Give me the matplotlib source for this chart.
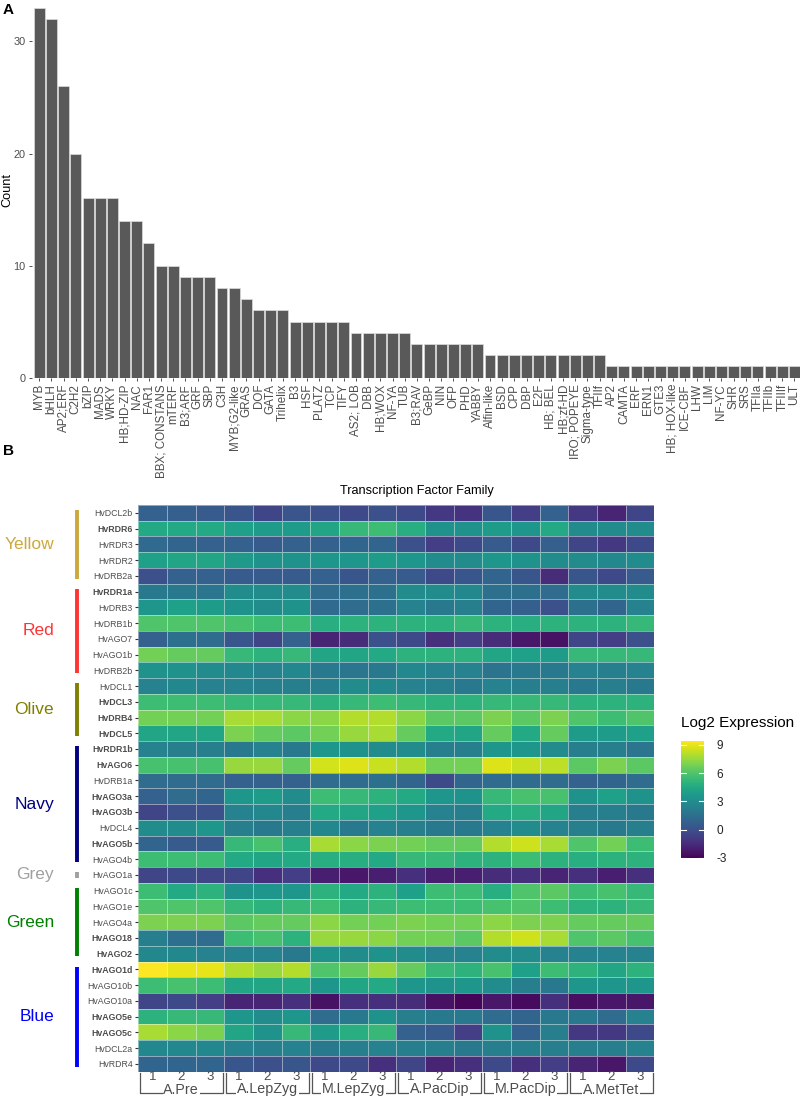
import numpy as np
import matplotlib
matplotlib.use("Agg")
import matplotlib.pyplot as plt
import matplotlib.transforms as mtransforms
from matplotlib.colors import Normalize

plt.rcParams['font.family'] = ['Liberation Sans', 'DejaVu Sans']
plt.rcParams['axes.unicode_minus'] = False

# ---------------- data: panel A ----------------
families = ["MYB", "bHLH", "AP2;ERF", "C2H2", "bZIP", "MADS", "WRKY", "HB;HD-ZIP", "NAC", "FAR1",
            "BBX; CONSTANS", "mTERF", "B3;ARF", "GRF", "SBP", "C3H", "MYB;G2-like", "GRAS", "DOF", "GATA",
            "Trihelix", "B3", "HSF", "PLATZ", "TCP", "TIFY", "AS2; LOB", "DBB", "HB;WOX", "NF-YA",
            "TUB", "B3;RAV", "GeBP", "NIN", "OFP", "PHD", "YABBY", "Alfin-like", "BSD", "CPP",
            "DBP", "E2F", "HB; BEL", "HB;zf-HD", "IRO; POPEYE", "Sigma-type", "TFIIf", "AP2", "CAMTA", "ERF",
            "ERN1", "GTE3", "HB; HOX-like", "ICE-CBF", "LHW", "LIM", "NF-YC", "SHR", "SRS", "TFIIa",
            "TFIIb", "TFIIIf", "ULT"]
counts = [33, 32, 26, 20, 16, 16, 16, 14, 14, 12,
          10, 10, 9, 9, 9, 8, 8, 7, 6, 6,
          6, 5, 5, 5, 5, 5, 4, 4, 4, 4,
          4, 3, 3, 3, 3, 3, 3, 2, 2, 2,
          2, 2, 2, 2, 2, 2, 2, 1, 1, 1,
          1, 1, 1, 1, 1, 1, 1, 1, 1, 1,
          1, 1, 1]
count_ticks = [0, 10, 20, 30]

# ---------------- data: panel B ----------------
genes = ["HvDCL2b", "HvRDR6", "HvRDR3", "HvRDR2", "HvDRB2a",
         "HvRDR1a", "HvDRB3", "HvDRB1b", "HvAGO7", "HvAGO1b", "HvDRB2b",
         "HvDCL1", "HvDCL3", "HvDRB4", "HvDCL5",
         "HvRDR1b", "HvAGO6", "HvDRB1a", "HvAGO3a", "HvAGO3b", "HvDCL4", "HvAGO5b", "HvAGO4b",
         "HvAGO1a",
         "HvAGO1c", "HvAGO1e", "HvAGO4a", "HvAGO18", "HvAGO2",
         "HvAGO1d", "HvAGO10b", "HvAGO10a", "HvAGO5e", "HvAGO5c", "HvDCL2a", "HvRDR4"]
bold_genes = ["HvRDR6", "HvRDR1a", "HvDCL3", "HvDRB4", "HvDCL5", "HvRDR1b", "HvAGO6",
              "HvAGO3a", "HvAGO3b", "HvAGO5b", "HvAGO18", "HvAGO2", "HvAGO1d", "HvAGO5e", "HvAGO5c"]
modules = ["Yellow", "Red", "Olive", "Navy", "Grey", "Green", "Blue"]
module_sizes = [5, 6, 4, 8, 1, 5, 7]
module_colors = ["#CCA93E", "#FF3333", "#808000", "#000080", "#A0A0A0", "#008000", "#0000FF"]
stages = ["A.Pre", "A.LepZyg", "M.LepZyg", "A.PacDip", "M.PacDip", "A.MetTet"]
replicates = ["1", "2", "3"]
cbar_ticks = [-3, 0, 3, 6, 9]

expr = [
    [0.8, 0.7, 0.5, 0.2, -0.5, 0.2, 0.0, -0.3, 0.0, -0.3, -1.0, -1.2, 0.3, -0.8, 0.8, -1.0, -1.8, -0.5],
    [4.5, 4.5, 4.5, 4.0, 3.8, 3.8, 4.3, 5.3, 5.5, 4.8, 3.3, 3.3, 3.8, 3.5, 4.5, 3.0, 3.0, 3.0],
    [1.2, 1.0, 0.8, 0.8, 0.5, 0.8, 0.8, 1.0, 1.0, 0.0, -0.8, -0.3, 0.5, -0.3, 0.7, -0.5, -1.0, -0.3],
    [4.0, 4.3, 4.3, 3.7, 3.3, 3.3, 3.5, 3.5, 3.8, 3.5, 3.0, 3.0, 3.5, 3.3, 3.0, 3.0, 2.8, 3.0],
    [0.0, 0.8, 0.8, 0.5, 0.5, 0.5, 0.8, 0.3, 0.8, 0.5, -0.3, 0.3, 1.0, 0.3, -1.5, 0.3, -0.3, 0.5],
    [2.0, 2.0, 1.8, 3.0, 3.0, 3.0, 1.3, 1.5, 1.5, 3.0, 3.0, 2.8, 1.5, 1.5, 1.3, 3.0, 3.0, 3.0],
    [3.5, 4.0, 3.8, 3.3, 3.0, 3.3, 1.2, 1.3, 1.5, 2.5, 2.0, 2.3, 1.0, 0.7, 0.0, 1.5, 1.0, 2.5],
    [6.0, 6.0, 6.0, 5.8, 5.5, 5.5, 4.8, 5.0, 5.0, 5.0, 5.0, 5.3, 5.0, 4.8, 5.0, 5.0, 5.0, 5.3],
    [0.8, 1.5, 1.3, 0.3, -0.5, 0.8, -1.8, -1.5, 0.0, -0.3, -1.3, -0.8, -1.5, -2.3, -2.5, -0.5, -0.8, 0.0],
    [6.8, 6.5, 6.5, 5.3, 5.0, 5.3, 4.3, 4.3, 4.5, 5.0, 5.0, 5.0, 4.3, 4.0, 3.8, 5.3, 5.3, 5.3],
    [3.3, 3.3, 3.0, 2.8, 2.5, 2.8, 2.0, 1.8, 2.0, 2.8, 2.5, 2.5, 1.7, 2.0, 2.0, 2.5, 2.3, 2.5],
    [2.5, 2.8, 2.5, 2.5, 2.3, 2.3, 2.3, 3.0, 2.8, 2.5, 2.3, 2.0, 2.5, 2.3, 2.3, 2.0, 2.3, 2.0],
    [5.5, 5.5, 5.5, 5.3, 5.3, 5.3, 5.0, 5.3, 5.5, 5.3, 5.0, 5.0, 5.3, 5.3, 5.3, 5.0, 5.0, 5.0],
    [6.8, 6.8, 6.8, 7.8, 7.8, 7.3, 7.3, 8.0, 8.0, 7.3, 6.3, 6.3, 7.0, 6.3, 7.0, 6.0, 5.5, 6.0],
    [4.3, 4.3, 4.3, 7.0, 6.5, 6.3, 6.8, 7.5, 7.8, 6.5, 4.5, 4.3, 6.5, 4.5, 6.5, 3.8, 3.8, 4.0],
    [2.5, 2.3, 2.3, 2.0, 2.5, 2.0, 3.5, 3.3, 3.0, 3.0, 2.3, 2.3, 3.5, 3.5, 3.0, 2.3, 2.3, 1.8],
    [5.8, 5.8, 5.8, 7.5, 7.5, 6.5, 8.6, 8.8, 8.4, 8.0, 6.8, 6.8, 8.8, 8.4, 8.2, 6.3, 7.0, 6.3],
    [1.3, 1.3, 1.3, 0.8, 0.8, 0.8, 1.3, 1.3, 1.5, 1.0, -0.3, 1.0, 1.3, 1.3, 1.3, 0.8, 1.0, 1.3],
    [0.8, 1.3, 1.0, 3.5, 3.8, 3.0, 5.5, 5.3, 5.0, 4.5, 3.5, 3.3, 5.3, 5.8, 5.8, 3.3, 4.0, 3.3],
    [-0.5, 0.0, 0.0, 2.5, 2.8, 2.3, 4.5, 4.3, 4.0, 3.5, 2.5, 2.3, 4.5, 4.8, 4.3, 2.3, 2.3, 2.0],
    [3.0, 3.0, 3.5, 2.3, 2.0, 2.3, 2.8, 2.0, 2.5, 2.3, 2.0, 2.0, 2.5, 3.0, 2.5, 2.3, 2.0, 2.3],
    [1.0, 0.5, 0.5, 5.3, 5.8, 4.8, 7.8, 7.3, 7.0, 6.8, 6.5, 6.5, 8.0, 8.5, 7.8, 6.0, 6.8, 5.5],
    [5.5, 5.5, 5.5, 4.5, 4.3, 4.5, 4.8, 4.8, 4.5, 5.3, 5.3, 5.0, 5.0, 5.5, 5.0, 4.8, 5.0, 5.0],
    [-0.5, -0.3, -0.5, -0.5, -1.3, -0.8, -2.0, -2.3, -2.0, -1.3, -2.0, -2.0, -1.5, -1.3, -1.8, -1.3, -2.0, -1.3],
    [5.5, 4.5, 5.0, 3.3, 3.5, 3.5, 5.0, 4.5, 5.0, 4.0, 5.5, 5.5, 4.8, 6.0, 6.3, 5.5, 5.8, 5.3],
    [6.0, 6.0, 6.0, 5.3, 5.0, 5.3, 5.5, 5.0, 5.3, 5.5, 5.5, 5.5, 5.8, 6.0, 5.5, 5.0, 5.0, 5.3],
    [7.0, 7.0, 7.0, 6.3, 6.5, 6.5, 7.3, 6.8, 6.8, 7.0, 6.8, 6.8, 7.3, 7.0, 7.0, 6.5, 6.5, 6.5],
    [2.3, 1.5, 1.3, 5.5, 5.8, 5.0, 7.5, 7.5, 7.3, 6.8, 6.8, 6.3, 8.0, 8.5, 7.8, 6.0, 6.3, 5.8],
    [2.8, 2.8, 2.5, 2.5, 2.5, 2.0, 3.3, 3.0, 3.3, 3.0, 2.5, 2.5, 3.0, 3.0, 2.5, 2.5, 2.5, 2.5],
    [9.4, 9.0, 9.0, 8.0, 7.5, 8.0, 6.0, 6.5, 7.5, 6.5, 5.3, 5.0, 5.8, 4.0, 5.5, 5.0, 4.3, 5.0],
    [5.5, 5.8, 5.5, 4.3, 4.3, 4.5, 3.5, 4.3, 4.5, 3.5, 3.3, 3.5, 3.0, 2.3, 2.0, 3.5, 3.5, 3.5],
    [-0.5, -0.3, -0.8, -1.8, -1.8, -1.3, -2.5, -1.3, -1.3, -1.5, -2.5, -2.9, -2.3, -2.7, -1.3, -2.6, -2.3, -2.3],
    [5.0, 5.3, 5.3, 3.5, 3.0, 3.5, 1.3, 2.0, 3.3, 2.3, 2.0, 2.0, 1.3, 1.0, 2.0, 2.0, 1.3, 2.5],
    [7.8, 7.3, 7.0, 4.3, 3.3, 5.3, 3.8, 4.8, 5.3, 0.8, 0.5, -0.8, 3.3, 0.8, 2.3, -1.0, -1.0, -0.3],
    [2.8, 2.8, 2.8, 2.5, 2.3, 2.5, 2.0, 2.3, 2.5, 2.3, 2.3, 2.0, 2.3, 2.3, 2.3, 2.3, 2.3, 2.5],
    [1.0, 1.0, 1.0, 0.3, 0.0, 0.3, -0.3, -0.3, -1.3, -0.5, -1.8, -1.3, -0.3, -1.3, -0.8, -1.8, -2.3, -0.3],
]

# ---------------- figure ----------------
W, H = 800, 1097
fig = plt.figure(figsize=(W / 100, H / 100), dpi=100)


def fx(px):
    return px / W


def fy(py):
    return 1 - py / H


TXT = '#4D4D4D'
TICK = '#333333'

# ---- panel A ----
axA = fig.add_axes([fx(32), fy(377.7), fx(769.8), 377.7 / H])
xpos = np.arange(len(families))
axA.bar(xpos, counts, width=0.9, color='#595959', edgecolor='#DDDDDD', linewidth=0.5)
axA.set_xlim(-0.6, len(families) - 0.4)
axA.set_ylim(0, 33.7)
axA.set_xticks(xpos)
axA.set_xticklabels(families, rotation=90, fontsize=8.4, color=TXT)
axA.set_yticks(count_ticks)
axA.set_yticklabels([str(t) for t in count_ticks], fontsize=7.8, color=TXT)
axA.tick_params(axis='both', length=2.5, width=0.6, color=TICK, pad=2)
for s in axA.spines.values():
    s.set_visible(False)
fig.text(fx(7), fy(190), 'Count', rotation=90, ha='center', va='center', fontsize=9.2, color='black')
fig.text(fx(416.5), fy(491), 'Transcription Factor Family', ha='center', va='center', fontsize=9.2, color='black')
fig.text(fx(3), fy(10), 'A', ha='left', va='center', fontsize=11, fontweight='bold')

# ---- panel B heatmap ----
L, R, T, B = 138.3, 654.3, 505.0, 1071.7
axB = fig.add_axes([fx(L), fy(B), fx(R - L), (B - T) / H])
data = np.array(expr)
nrow, ncol = data.shape
norm = Normalize(vmin=-3.05, vmax=9.45)
mesh = axB.pcolormesh(np.arange(ncol + 1), np.arange(nrow + 1), data, cmap='viridis', norm=norm,
                      edgecolors=(1, 1, 1, 0.45), linewidth=0.6)
axB.set_xlim(0, ncol)
axB.set_ylim(nrow, 0)
axB.set_yticks(np.arange(nrow) + 0.5)
axB.set_yticklabels(genes, fontsize=6.3, color=TXT)
for lab in axB.get_yticklabels():
    if lab.get_text() in bold_genes:
        lab.set_fontweight('bold')
axB.tick_params(axis='y', length=2.5, width=0.8, color=TICK, pad=1.5)
axB.set_xticks([])
for s in axB.spines.values():
    s.set_visible(False)
fig.text(fx(3), fy(451), 'B', ha='left', va='center', fontsize=11, fontweight='bold')

# module annotations
trans_mod = mtransforms.blended_transform_factory(fig.transFigure, axB.transData)
start = 0
for name, size, col in zip(modules, module_sizes, module_colors):
    y0 = start + 0.33
    y1 = start + size - 0.33
    axB.plot([fx(77), fx(77)], [y0, y1], color=col, lw=2.8, solid_capstyle='butt',
             transform=trans_mod, clip_on=False)
    axB.text(fx(54), start + size / 2, name, color=col, fontsize=12.5, ha='right', va='center',
             transform=trans_mod, clip_on=False)
    start += size

# column labels with brackets
trans_col = mtransforms.blended_transform_factory(axB.transData, fig.transFigure)
for j in range(ncol):
    axB.text(j + 0.5, fy(1077), replicates[j % 3], ha='center', va='center', fontsize=9.5,
             color=TXT, transform=trans_col, clip_on=False)
ybr_top, ybr_bot = fy(1072.5), fy(1092.7)
for g, st in enumerate(stages):
    x0, x1 = 3 * g + 0.06, 3 * g + 3 - 0.06
    axB.plot([x0, x0, x1, x1], [ybr_top, ybr_bot, ybr_bot, ybr_top], color='#555555', lw=0.9,
             transform=trans_col, clip_on=False)
    axB.text(3 * g + 1.5, fy(1089.5), st, ha='center', va='center', fontsize=10.3, color=TXT,
             transform=trans_col, clip_on=False,
             bbox=dict(facecolor='white', edgecolor='none', pad=0.6))

# colorbar
cax = fig.add_axes([fx(681), fy(858.3), fx(23), (858.3 - 740.7) / H])
cb = fig.colorbar(mesh, cax=cax, ticks=cbar_ticks)
cb.outline.set_visible(False)
cax.tick_params(length=0, labelsize=8.5, pad=9, labelcolor='#222222')
for t in cbar_ticks:
    cax.plot([0, 0.2], [t, t], color='white', lw=0.8)
    cax.plot([0.8, 1.0], [t, t], color='white', lw=0.8)
fig.text(fx(681), fy(723), 'Log2 Expression', ha='left', va='center', fontsize=11, color='black')

fig.savefig('out.png', dpi=100)
